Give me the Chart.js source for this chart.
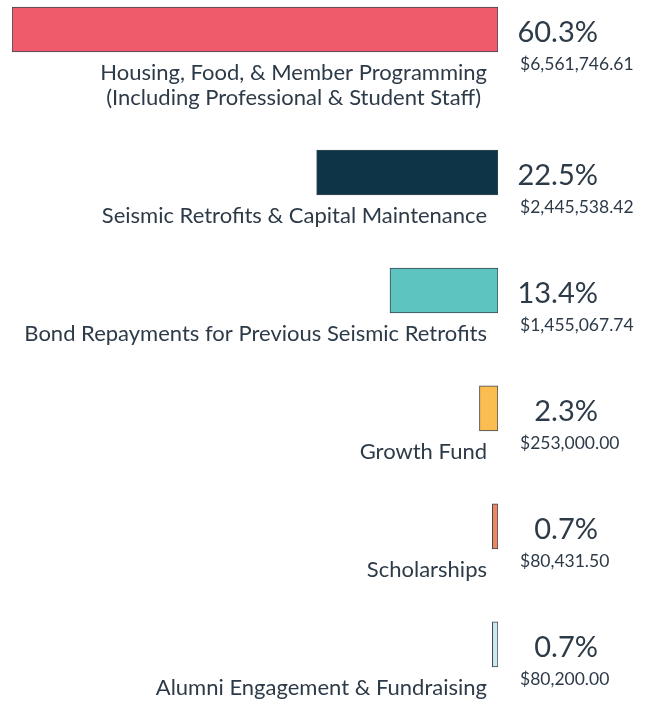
<!DOCTYPE html>
<html lang="en">
<head>
  <meta charset="UTF-8">
  <title>Budget Allocation</title>
  <script src="https://cdn.jsdelivr.net/npm/chart.js"></script>
  <style>
    html, body { margin: 0; padding: 0; background: #fff; }
    .wrap { width: 661px; height: 702px; position: relative; }
  </style>
</head>
<body>
  <div class="wrap"><canvas id="budgetChart"></canvas></div>

  <script>
    var categories = [
      ['Housing, Food, & Member Programming', '(Including Professional & Student Staff)'],
      ['Seismic Retrofits & Capital Maintenance'],
      ['Bond Repayments for Previous Seismic Retrofits'],
      ['Growth Fund'],
      ['Scholarships'],
      ['Alumni Engagement & Fundraising']
    ];
    var percents = [60.3, 22.5, 13.4, 2.3, 0.7, 0.7];
    var amounts = ['$6,561,746.61', '$2,445,538.42', '$1,455,067.74', '$253,000.00', '$80,431.50', '$80,200.00'];
    var colors = ['#ef5b6b', '#0e3547', '#5ec4bf', '#fbbd4f', '#ee8660', '#cde8ee'];

    // a row gets a bit taller when its label wraps to a second line
    var extraLine = 25 / 118;
    var rowPos = [];
    var pos = 0;
    categories.forEach(function (lines) {
      rowPos.push(pos);
      pos += 1 + (lines.length - 1) * extraLine;
    });

    var textColor = '#2d3a48';

    var barLabels = {
      id: 'barLabels',
      afterDatasetsDraw: function (chart) {
        var ctx = chart.ctx;
        var meta = chart.getDatasetMeta(0);
        ctx.save();
        ctx.fillStyle = textColor;
        ctx.textBaseline = 'middle';
        meta.data.forEach(function (bar, i) {
          var p = bar.getProps(['y', 'base', 'height'], true);
          var bottom = p.y + p.height / 2;
          var right = p.base - 11;

          // label block sits right-aligned under the bar, lines centred in it
          ctx.font = '22px Lato';
          var lines = categories[i];
          var widest = Math.max.apply(null, lines.map(function (l) { return ctx.measureText(l).width; }));
          ctx.textAlign = 'center';
          lines.forEach(function (line, k) {
            ctx.fillText(line, right - widest / 2, bottom + 21 + k * 25);
          });

          ctx.textAlign = 'right';
          ctx.font = '29px Lato';
          ctx.fillText(percents[i].toFixed(1) + '%', p.base + 100, p.y + 3);

          ctx.textAlign = 'left';
          ctx.font = '17.5px Lato';
          ctx.fillText(amounts[i], p.base + 22, p.y + 35);
        });
        ctx.restore();
      }
    };

    var ctx = document.getElementById('budgetChart').getContext('2d');

    var myChart = new Chart(ctx, {
      type: 'bar',
      data: {
        datasets: [{
          data: percents.map(function (v, i) { return { x: v, y: rowPos[i] }; }),
          backgroundColor: colors,
          borderColor: '#3b4752',
          borderWidth: 1,
          borderSkipped: false,
          barThickness: 45
        }]
      },
      options: {
        indexAxis: 'y',
        responsive: true,
        maintainAspectRatio: false,
        animation: false,
        layout: {
          padding: { left: 12, right: 163, top: 0, bottom: 0 }
        },
        scales: {
          x: {
            display: false,
            reverse: true,
            min: 0,
            max: Math.max.apply(null, percents)
          },
          y: {
            type: 'linear',
            display: false,
            reverse: true,
            offset: false,
            min: -0.25,
            max: 5.7
          }
        },
        plugins: {
          legend: { display: false },
          tooltip: { enabled: false }
        }
      },
      plugins: [barLabels]
    });
  </script>
</body>
</html>
